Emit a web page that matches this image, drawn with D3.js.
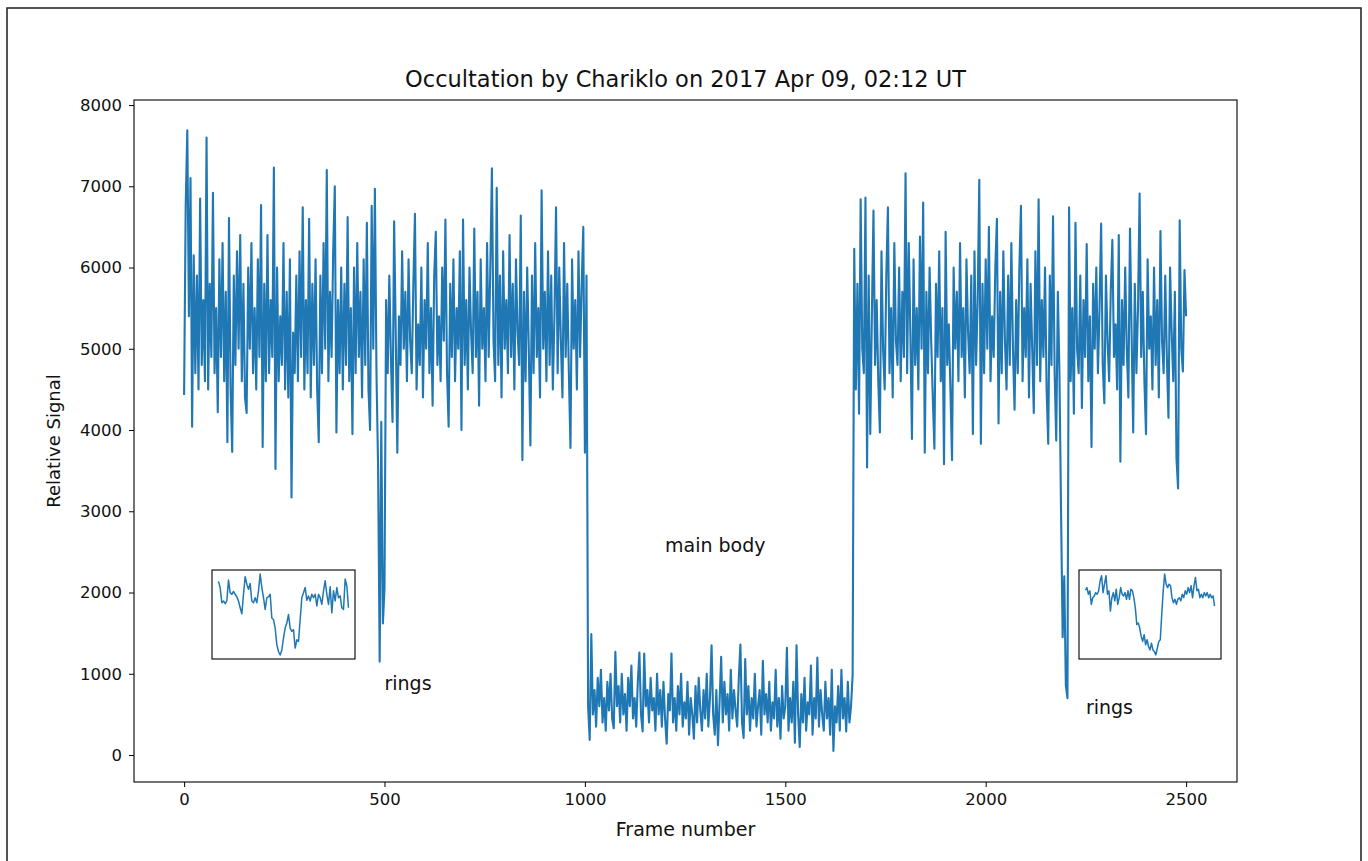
<!DOCTYPE html>
<html>
<head>
<meta charset="utf-8">
<script src="https://cdn.jsdelivr.net/npm/d3@7"></script>
<style>
  body { margin: 0; background: #fff; }
  text { font-family: "DejaVu Sans", sans-serif; fill: #111; }
</style>
</head>
<body>
<svg id="chart" width="1368" height="861"></svg>
<script>
// Light curve, one value every 4 frames, split into pieces by event
var frameStep = 4;

var preRing1Start = 0;
var preRing1 = [
  4430,6770,7690,5400,7100,4040,6150,4700,5900,4500,
  6850,4800,5600,4600,7600,4500,5800,4900,6920,4700,
  5500,4220,6100,4900,6300,4600,5700,3850,6610,4500,
  3730,5900,4800,6200,5000,6400,4600,5800,4400,4210,
  6000,5000,6300,4700,5500,4500,6100,4900,6770,3790,
  5800,4600,6400,4700,5600,4900,7230,3520,6000,4600,
  5400,4800,6300,4500,5700,4400,6100,3170,5200,4700,
  5900,4600,6200,4900,6740,4500,5600,4700,6600,4400,
  5800,4800,6100,4500,3850,5900,4700,6300,5000,7200,
  4600,5700,4900,6200,7000,3970,5600,4700,6000,4500,
  5800,4800,6620,4600,5500,3950,6000,4700,6300,4900,
  5700,4400,6100,4800,6550,4500,4000,6760,5000,6970
];

var ring1Start = 480;
var ring1 = [4700,3550,1150,4100,1620,2050];

var preBodyStart = 504;
var preBody = [
  5600,4700,5900,4900,4100,6570,5200,3720,5400,4800,
  6200,5000,5700,4600,6100,5100,4700,5800,6660,4500,
  5300,4800,6000,4400,5600,5000,6300,4700,5500,4300,
  5900,6440,4800,5400,4600,6000,5100,6590,4700,4040,
  5800,4900,6100,4600,5500,5000,6200,4000,6590,4800,
  5600,4500,6000,5200,4700,6480,4900,5700,4300,6100,
  5000,5500,4600,6300,4900,6000,7220,5100,4600,6980,
  4800,5900,4400,6200,5000,5600,4700,6400,4900,5800,
  4500,6100,5200,4800,6640,3630,5700,4600,6000,5000,
  3810,5900,4700,6300,4900,5500,4400,6950,5000,5700,
  4600,6200,4800,5900,4500,5400,6740,4700,6000,5100,
  4400,6300,4900,5800,4700,3780,6100,5000,5600,4500,
  6200,4900,5800,6500,3720,5900
];

var mainBodyStart = 1008;
var mainBody = [
  600,185,1490,500,800,350,950,600,1050,400,
  700,300,900,550,1000,450,330,1270,600,850,
  400,1000,500,750,300,950,600,1100,450,700,
  350,900,1260,500,290,1250,600,800,400,950,
  550,700,300,1000,500,800,350,900,450,140,
  750,550,1250,400,700,300,850,500,1000,350,
  650,450,900,250,700,500,200,850,400,950,
  550,300,800,450,1000,350,700,1350,500,250,
  800,120,650,1210,400,900,500,750,300,1050,
  450,800,550,350,950,1360,400,210,1180,500,
  850,300,700,450,1000,350,600,800,250,1160,
  500,750,400,900,300,650,450,1050,350,700,
  200,850,450,600,1320,300,700,400,900,150,
  1350,500,100,750,400,950,300,650,500,1100,
  250,700,450,1200,350,800,500,300,900,450,
  700,250,1050,50,600,400,850,300,1050,450,
  700,290,900,400,600,990
];

var postBodyStart = 1672;
var postBody = [
  6230,4500,5800,4200,6840,5000,4700,6860,3540,5900,
  3950,5400,6700,4800,5600,4600,3970,6200,5000,4500,
  5900,6740,4700,5500,4400,6300,5100,4800,6000,4600,
  5700,4900,7160,4700,6300,5200,3890,6100,4800,5500,
  4500,6380,5000,6800,3720,5700,4700,6000,5100,4400,
  3770,5800,4900,6200,4600,5500,3580,6440,4800,5300,
  4500,3630,6000,5000,5700,4600,6300,4900,5500,4400,
  6100,5200,4700,5900,3950,6200,4800,5600,7080,3830,
  5800,4700,6100,5000,6500,4600,5400,4900,6000,6600,
  4080,5700,4700,6200,5100,4500,5900,4800,6300,5000,
  4250,5600,4700,6000,6760,4600,5500,4900,6100,4400,
  5800,5000,4210,6200,4800,6840,4600,5600,4900,6000,
  4500,3830,5900,4800,6630,4700,3870,5700
];

var ring2Start = 2184;
var ring2 = [4700,3000,1450,2200,850,700];

var postRing2Start = 2208;
var postRing2 = [
  6740,4600,5500,4200,6550,5000,4700,5900,4270,5600,
  4900,6290,4600,5400,3790,5800,5000,6000,4700,5500,
  6540,4800,4330,5900,5100,4600,5700,6340,4900,5300,
  4500,6400,3610,5600,4800,6000,5000,4400,6480,5200,
  3970,5800,4700,5500,6910,4900,5700,4600,3950,6100,
  5000,5400,4500,6000,4800,5600,4400,6450,5100,4700,
  5900,4900,4150,6000,5200,4600,5700,3650,3280,6580,
  5000,4720,5970,5400
];

// zoomed views of the two ring events (insets, no ticks)
var ring1Zoom = [
  5750,5370,4440,4550,4380,4550,5830,5060,4960,5130,
  4960,4800,4550,4130,3760,4960,6040,5580,5270,5620,
  4550,4440,4750,4440,5170,6200,5370,4750,4030,4750,
  4800,4960,3510,3410,2890,1860,1450,1240,1550,2280,
  2890,3200,3720,2890,2690,2790,1660,2170,2070,3410,
  4750,5060,5370,4590,4860,4550,4960,4750,4960,4240,
  4960,4750,4340,5170,5790,4960,4340,5420,3820,5170,
  4550,5370,4750,4860,4130,4030,5890,5480,4130
];
var ring2Zoom = [
  5210,5370,4960,5170,4340,4750,4860,5060,4960,5170,
  5790,6100,5060,5580,6100,4960,5170,3930,4750,5060,
  4550,5270,4340,4750,5370,4960,4860,5060,4650,5170,
  4650,5270,5170,4750,4130,3100,3200,2890,2380,2070,
  2480,1860,2170,1760,1550,1960,1550,1450,1240,1650,
  2070,2170,3720,5170,6200,5580,5370,5580,5480,4750,
  4440,4650,4340,4650,4750,4550,4960,4750,5170,4960,
  5370,5060,5480,4750,5480,5990,5170,5270,4750,4960,
  4750,5060,4860,5060,4750,4960,4750,4860,4240
];

var xTicks = [0, 500, 1000, 1500, 2000, 2500];
var yTicks = [0, 1000, 2000, 3000, 4000, 5000, 6000, 7000, 8000];
var notes = [
  { label: "rings", frame: 500, signal: 800 },
  { label: "main body", frame: 1200, signal: 2500 },
  { label: "rings", frame: 2250, signal: 500 }
];

// build one series
var pieces = [
  [preRing1Start, preRing1], [ring1Start, ring1], [preBodyStart, preBody],
  [mainBodyStart, mainBody], [postBodyStart, postBody], [ring2Start, ring2],
  [postRing2Start, postRing2]
];
var series = [];
pieces.forEach(function (p) {
  p[1].forEach(function (v, i) {
    series.push({ frame: p[0] + i * frameStep, signal: v });
  });
});

var svg = d3.select("#chart");
var blue = "#1f77b4";

// outer frame of the figure
svg.append("rect")
  .attr("x", 7).attr("y", 8)
  .attr("width", 1354).attr("height", 900)
  .attr("fill", "none").attr("stroke", "#2a2a2a").attr("stroke-width", 1.6);

var plotLeft = 134, plotRight = 1237, plotTop = 100, plotBottom = 782;

var x = d3.scaleLinear().domain([-125, 2627]).range([plotLeft, plotRight]);
var y = d3.scaleLinear().domain([-332, 8062]).range([plotBottom, plotTop]);

var line = d3.line()
  .x(function (d) { return x(d.frame); })
  .y(function (d) { return y(d.signal); });

svg.append("path")
  .datum(series)
  .attr("d", line)
  .attr("fill", "none")
  .attr("stroke", blue)
  .attr("stroke-width", 2.1)
  .attr("stroke-linejoin", "round");

// axes
var xAxis = svg.append("g")
  .attr("transform", "translate(0," + plotBottom + ")")
  .call(d3.axisBottom(x).tickValues(xTicks).tickFormat(d3.format("d")).tickSizeInner(5).tickSizeOuter(0).tickPadding(6));
var yAxis = svg.append("g")
  .attr("transform", "translate(" + plotLeft + ",0)")
  .call(d3.axisLeft(y).tickValues(yTicks).tickFormat(d3.format("d")).tickSizeInner(5).tickSizeOuter(0).tickPadding(7));
[xAxis, yAxis].forEach(function (g) {
  g.select(".domain").remove();
  g.selectAll("line").attr("stroke", "#000").attr("stroke-width", 1);
  g.selectAll("text").attr("font-size", "16.5px").attr("fill", "#111")
    .style("font-family", "DejaVu Sans");
});

svg.append("rect")
  .attr("x", plotLeft).attr("y", plotTop)
  .attr("width", plotRight - plotLeft).attr("height", plotBottom - plotTop)
  .attr("fill", "none").attr("stroke", "#000").attr("stroke-width", 1.1);

// title and labels
svg.append("text")
  .attr("x", (plotLeft + plotRight) / 2).attr("y", 87)
  .attr("text-anchor", "middle").attr("font-size", "22.5px")
  .text("Occultation by Chariklo on 2017 Apr 09, 02:12 UT");

svg.append("text")
  .attr("x", (plotLeft + plotRight) / 2).attr("y", 836)
  .attr("text-anchor", "middle").attr("font-size", "19px")
  .text("Frame number");

svg.append("text")
  .attr("transform", "translate(60," + ((plotTop + plotBottom) / 2) + ") rotate(-90)")
  .attr("text-anchor", "middle").attr("font-size", "18px")
  .text("Relative Signal");

svg.selectAll(".note")
  .data(notes)
  .enter().append("text")
  .attr("class", "note")
  .attr("x", function (d) { return x(d.frame); })
  .attr("y", function (d) { return y(d.signal); })
  .attr("font-size", "19px")
  .text(function (d) { return d.label; });

// insets
function inset(values, box) {
  var ix = d3.scaleLinear()
    .domain([-0.05 * (values.length - 1), 1.05 * (values.length - 1)])
    .range([box.x0, box.x1]);
  var ext = d3.extent(values), pad = 0.05 * (ext[1] - ext[0]);
  var iy = d3.scaleLinear().domain([ext[0] - pad, ext[1] + pad]).range([box.y1, box.y0]);
  svg.append("rect")
    .attr("x", box.x0).attr("y", box.y0)
    .attr("width", box.x1 - box.x0).attr("height", box.y1 - box.y0)
    .attr("fill", "#fff").attr("stroke", "#000").attr("stroke-width", 1.1);
  svg.append("path")
    .datum(values)
    .attr("d", d3.line().x(function (d, i) { return ix(i); }).y(function (d) { return iy(d); }))
    .attr("fill", "none").attr("stroke", blue).attr("stroke-width", 1.5)
    .attr("stroke-linejoin", "round");
}
inset(ring1Zoom, { x0: 212, x1: 355, y0: 570, y1: 659 });
inset(ring2Zoom, { x0: 1079, x1: 1221, y0: 570, y1: 659 });
</script>
</body>
</html>
